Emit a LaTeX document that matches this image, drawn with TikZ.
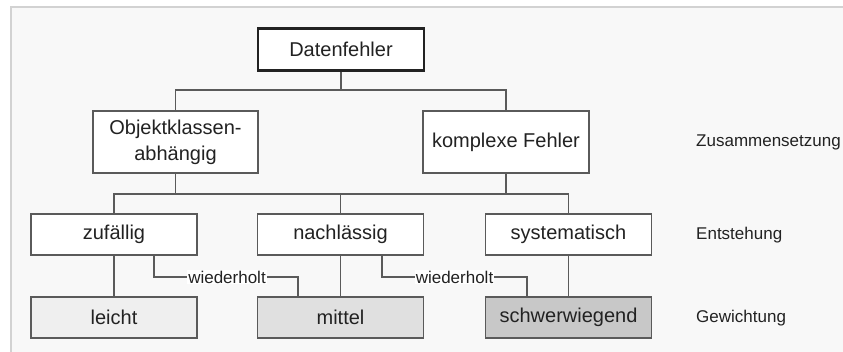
\documentclass[tikz,border=0pt]{standalone}
\usepackage{fontspec}
\setmainfont{Liberation Sans}
\definecolor{panel}{HTML}{F8F8F8}
\definecolor{panelline}{HTML}{D2D2D2}
\definecolor{boxline}{HTML}{5A5A5A}
\definecolor{txt}{HTML}{222222}
\definecolor{fillA}{HTML}{EFEFEF}
\definecolor{fillB}{HTML}{E0E0E0}
\definecolor{fillC}{HTML}{C8C8C8}
\tikzset{
  box/.style={draw=boxline, line width=1.5pt, fill=white, minimum width=166pt, minimum height=41pt, inner sep=0pt, align=center, text=txt, font=\fontsize{20}{26}\selectfont},
  topbox/.style={box, draw=txt, line width=2.4pt, minimum height=42pt},
  conn/.style={draw=boxline, line width=1.4pt},
  wlabel/.style={fill=white, inner sep=1pt, text=txt, font=\fontsize{17}{20}\selectfont},
  sidelabel/.style={anchor=west, inner sep=0pt, text=txt, font=\fontsize{17}{20}\selectfont},
}
\begin{document}
\begin{tikzpicture}[x=1pt,y=-1pt]
\useasboundingbox (0,0) rectangle (843,351);
\fill[white] (0,0) rectangle (843,351);
\draw[panelline, line width=1.8pt, fill=panel] (11,7) rectangle (848,356);

% nodes
\node[topbox] (dat) at (341,49.5) {Datenfehler};
\node[box, minimum width=165pt, minimum height=62pt] (obj) at (175.5,142) {Objektklassen-\\abhängig};
\node[box, minimum height=62pt] (kom) at (506,142) {komplexe Fehler};
\node[box] (zuf) at (114,234.5) {zufällig};
\node[box] (nach) at (340.5,234.5) {nachlässig};
\node[box] (sys) at (568.5,234.5) {systematisch};
\node[box, fill=fillA] (lei) at (114,317.5) {leicht};
\node[box, fill=fillB] (mit) at (340.5,317.5) {mittel};
\node[box, fill=fillC] (sch) at (568.5,317.5) {schwerwiegend};

\node[sidelabel] (l1) at (696,142) {Zusammensetzung};
\node[sidelabel] (l2) at (696,235) {Entstehung};
\node[sidelabel] (l3) at (696,318) {Gewichtung};

% connectors level 1
\coordinate (b1) at (341,90);
\draw[conn] (dat.south) -- (b1);
\draw[conn] (obj.north) |- (b1) -| (kom.north);

% connectors level 2
\coordinate (b2) at (340.5,194);
\draw[conn] (obj.south) -- (obj.south |- b2);
\draw[conn] (kom.south) -- (kom.south |- b2);
\draw[conn] (zuf.north) |- (b2) -| (sys.north);
\draw[conn] (nach.north) -- (b2);

% vertical to weights
\draw[conn] (zuf.south) -- (lei.north);
\draw[conn] (nach.south) -- (mit.north);
\draw[conn] (sys.south) -- (sch.north);

% wiederholt
\node[wlabel] (w1) at (227,277) {wiederholt};
\node[wlabel] (w2) at (454.5,277) {wiederholt};
\coordinate (s1) at ([xshift=40pt]zuf.south);
\coordinate (e1) at ([xshift=-42.5pt]mit.north);
\coordinate (s2) at ([xshift=41.5pt]nach.south);
\coordinate (e2) at ([xshift=-41.5pt]sch.north);
\draw[conn] (s1) |- (w1.west);
\draw[conn] (w1.east) -| (e1);
\draw[conn] (s2) |- (w2.west);
\draw[conn] (w2.east) -| (e2);
\end{tikzpicture}
\end{document}
